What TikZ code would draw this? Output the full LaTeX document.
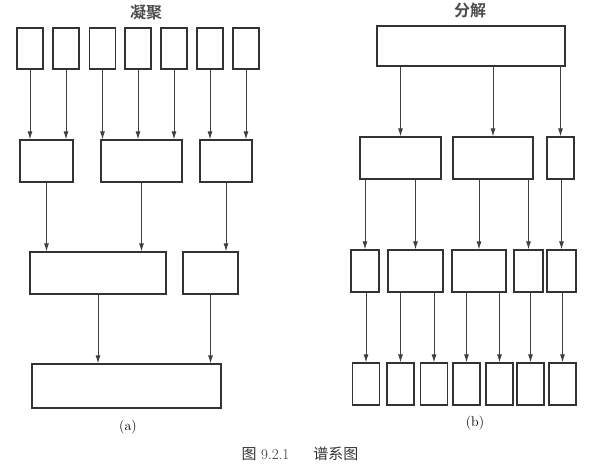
\documentclass[tikz,border=0pt]{standalone}
\usepackage{fontspec}
\newfontfamily\cjk{Noto Sans CJK SC}
\newfontfamily\cjkbold{Noto Sans CJK SC Bold}
\usetikzlibrary{arrows.meta}
\tikzset{
  box/.style={draw=black!80, line width=1.1pt, inner sep=0pt, minimum height=42pt},
  link/.style={draw=black!75, line width=1pt, -{Latex[length=8pt,width=5pt]}},
  title/.style={font=\cjkbold\fontsize{16}{18}\selectfont, text=black!70},
}
\begin{document}
\begin{tikzpicture}[x=1pt, y=-1pt]
        \useasboundingbox (0,0) rectangle (589,467);

        % (a) agglomerative
        \node[title] (atitle) at (146,12) {凝聚};
        \foreach \i/\x in {1/30,2/66,3/102.5,4/138,5/174,6/210,7/246}
            \node[box, minimum width=26pt, minimum height=41pt] (t\i) at (\x,48.5) {};

        \node[box, minimum width=53pt] (p1) at (46.5,161) {};
        \node[box, minimum width=81pt] (p2) at (141.5,161) {};
        \node[box, minimum width=52pt] (p3) at (226,161) {};

        \node[box, minimum width=136pt] (q1) at (98,273) {};
        \node[box, minimum width=55pt] (q2) at (210.5,273) {};

        \node[box, minimum width=189pt, minimum height=44pt] (r1) at (126.5,386) {};

        \foreach \a/\b in {t1/p1,t2/p1,t3/p2,t4/p2,t5/p2,t6/p3,t7/p3,p1/q1,p2/q1,p3/q2,q1/r1,q2/r1}
            \draw[link] (\a.south) -- (\a.south |- \b.north);

        \node[font=\fontsize{14}{16}\selectfont] (alabel) at (128,427) {(a)};

        % (b) divisive
        \node[title] (btitle) at (470,10) {分解};
        \node[box, minimum width=188pt, minimum height=40pt] (s0) at (471,46) {};

        \node[box, minimum width=81pt] (g1) at (400.5,158) {};
        \node[box, minimum width=80pt] (g2) at (493,158) {};
        \node[box, minimum width=27pt] (g3) at (560.5,158) {};

        \node[box, minimum width=28pt] (h1) at (365,271) {};
        \node[box, minimum width=55pt] (h2) at (415.5,271) {};
        \node[box, minimum width=54pt] (h3) at (479,271) {};
        \node[box, minimum width=29pt] (h4) at (528.5,271) {};
        \node[box, minimum width=29pt] (h5) at (561.5,271) {};

        \foreach \i/\x in {1/366,2/400.5,3/434,4/466.5,5/499.5,6/530.5,7/562.5}
            \node[box, minimum width=27pt] (k\i) at (\x,384) {};

        \foreach \a/\b in {s0/g1,s0/g2,s0/g3,g1/h1,g1/h2,g2/h3,g2/h4,g3/h5,h1/k1,h2/k2,h2/k3,h3/k4,h3/k5,h4/k6,h5/k7}
            \draw[link] (\b.north |- \a.south) -- (\b.north);

        \node[font=\fontsize{14}{16}\selectfont] (blabel) at (475,423) {(b)};

        % caption
        \node[font=\fontsize{15}{17}\selectfont, text=black!80] (caption) at (300,454)
            {{\cjk 图} 9.2.1\hspace{1.6em}{\cjk 谱系图}};
    \end{tikzpicture}
\end{document}
